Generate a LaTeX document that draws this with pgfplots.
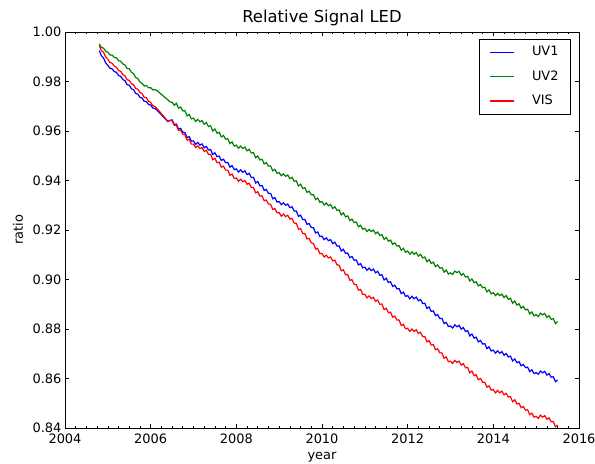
\documentclass[border=0pt]{standalone}
\usepackage{fontspec}
\setmainfont{DejaVu Sans}
\usepackage{pgfplots}
\usepackage{pgfplotstable}
\pgfplotsset{compat=1.18}
\usetikzlibrary{calc}
\definecolor{mplgreen}{rgb}{0,0.5,0}
\definecolor{mplblue}{rgb}{0,0,1}
\definecolor{mplred}{rgb}{1,0,0}

\pgfplotstableread{
year uv1 uv2 vis
2004.80 0.9925 0.9952 0.9945
2004.85 0.9904 0.9938 0.9925
2004.90 0.9895 0.9935 0.9918
2004.95 0.9875 0.9922 0.9899
2005.00 0.9865 0.9918 0.9890
2005.05 0.9853 0.9907 0.9877
2005.10 0.9851 0.9907 0.9874
2005.15 0.9840 0.9897 0.9862
2005.20 0.9837 0.9896 0.9858
2005.25 0.9824 0.9884 0.9844
2005.30 0.9821 0.9882 0.9841
2005.35 0.9808 0.9871 0.9828
2005.40 0.9803 0.9867 0.9823
2005.45 0.9787 0.9852 0.9807
2005.50 0.9785 0.9852 0.9805
2005.55 0.9771 0.9837 0.9791
2005.60 0.9767 0.9832 0.9787
2005.65 0.9752 0.9816 0.9772
2005.70 0.9749 0.9812 0.9769
2005.75 0.9736 0.9798 0.9756
2005.80 0.9733 0.9792 0.9751
2005.85 0.9720 0.9782 0.9736
2005.90 0.9719 0.9784 0.9734
2005.95 0.9707 0.9775 0.9720
2006.00 0.9705 0.9775 0.9716
2006.05 0.9693 0.9766 0.9702
2006.10 0.9691 0.9767 0.9699
2006.15 0.9684 0.9763 0.9690
2006.40 0.9638 0.9726 0.9640
2006.45 0.9643 0.9718 0.9642
2006.50 0.9645 0.9716 0.9642
2006.55 0.9627 0.9704 0.9623
2006.60 0.9628 0.9712 0.9623
2006.65 0.9608 0.9692 0.9602
2006.70 0.9611 0.9697 0.9604
2006.75 0.9595 0.9681 0.9587
2006.80 0.9594 0.9682 0.9585
2006.85 0.9573 0.9661 0.9563
2006.90 0.9577 0.9667 0.9566
2006.95 0.9559 0.9649 0.9547
2007.00 0.9560 0.9652 0.9547
2007.05 0.9546 0.9639 0.9533
2007.10 0.9554 0.9647 0.9540
2007.15 0.9543 0.9637 0.9529
2007.20 0.9548 0.9642 0.9533
2007.25 0.9532 0.9627 0.9517
2007.30 0.9538 0.9634 0.9522
2007.35 0.9523 0.9618 0.9505
2007.40 0.9525 0.9621 0.9506
2007.45 0.9505 0.9600 0.9484
2007.50 0.9512 0.9608 0.9490
2007.55 0.9496 0.9591 0.9472
2007.60 0.9499 0.9595 0.9474
2007.65 0.9481 0.9576 0.9454
2007.70 0.9486 0.9582 0.9458
2007.75 0.9472 0.9567 0.9442
2007.80 0.9473 0.9569 0.9442
2007.85 0.9454 0.9549 0.9421
2007.90 0.9460 0.9556 0.9426
2007.95 0.9444 0.9539 0.9408
2008.00 0.9447 0.9543 0.9410
2008.05 0.9434 0.9530 0.9397
2008.10 0.9443 0.9539 0.9405
2008.15 0.9433 0.9529 0.9395
2008.20 0.9439 0.9535 0.9400
2008.25 0.9424 0.9520 0.9385
2008.30 0.9429 0.9526 0.9389
2008.35 0.9412 0.9511 0.9372
2008.40 0.9413 0.9513 0.9372
2008.45 0.9390 0.9492 0.9350
2008.50 0.9396 0.9499 0.9355
2008.55 0.9378 0.9483 0.9337
2008.60 0.9380 0.9486 0.9338
2008.65 0.9360 0.9467 0.9318
2008.70 0.9364 0.9472 0.9321
2008.75 0.9348 0.9458 0.9305
2008.80 0.9348 0.9459 0.9304
2008.85 0.9326 0.9439 0.9283
2008.90 0.9331 0.9445 0.9287
2008.95 0.9313 0.9429 0.9269
2009.00 0.9315 0.9432 0.9270
2009.05 0.9302 0.9419 0.9256
2009.10 0.9310 0.9427 0.9265
2009.15 0.9300 0.9417 0.9254
2009.20 0.9305 0.9422 0.9260
2009.25 0.9290 0.9407 0.9244
2009.30 0.9294 0.9413 0.9247
2009.35 0.9277 0.9397 0.9228
2009.40 0.9277 0.9399 0.9227
2009.45 0.9255 0.9378 0.9203
2009.50 0.9260 0.9385 0.9206
2009.55 0.9242 0.9368 0.9186
2009.60 0.9243 0.9371 0.9186
2009.65 0.9223 0.9352 0.9164
2009.70 0.9226 0.9357 0.9166
2009.75 0.9210 0.9342 0.9148
2009.80 0.9209 0.9343 0.9146
2009.85 0.9188 0.9323 0.9123
2009.90 0.9192 0.9329 0.9125
2009.95 0.9174 0.9312 0.9105
2010.00 0.9175 0.9315 0.9105
2010.05 0.9161 0.9301 0.9091
2010.10 0.9168 0.9309 0.9098
2010.15 0.9157 0.9298 0.9087
2010.20 0.9161 0.9303 0.9091
2010.25 0.9145 0.9287 0.9075
2010.30 0.9151 0.9294 0.9078
2010.35 0.9135 0.9279 0.9059
2010.40 0.9136 0.9281 0.9058
2010.45 0.9115 0.9261 0.9035
2010.50 0.9122 0.9269 0.9039
2010.55 0.9105 0.9253 0.9019
2010.60 0.9107 0.9257 0.9019
2010.65 0.9088 0.9238 0.8997
2010.70 0.9093 0.9244 0.8999
2010.75 0.9078 0.9230 0.8981
2010.80 0.9079 0.9232 0.8979
2010.85 0.9059 0.9213 0.8957
2010.90 0.9064 0.9219 0.8960
2010.95 0.9047 0.9203 0.8940
2011.00 0.9050 0.9207 0.8940
2011.05 0.9037 0.9194 0.8926
2011.10 0.9046 0.9203 0.8934
2011.15 0.9036 0.9194 0.8923
2011.20 0.9042 0.9200 0.8928
2011.25 0.9027 0.9185 0.8912
2011.30 0.9033 0.9192 0.8917
2011.35 0.9017 0.9178 0.8900
2011.40 0.9019 0.9181 0.8901
2011.45 0.8998 0.9162 0.8878
2011.50 0.9005 0.9170 0.8884
2011.55 0.8988 0.9155 0.8866
2011.60 0.8991 0.9159 0.8868
2011.65 0.8972 0.9142 0.8848
2011.70 0.8977 0.9148 0.8852
2011.75 0.8962 0.9135 0.8836
2011.80 0.8963 0.9137 0.8836
2011.85 0.8943 0.9118 0.8814
2011.90 0.8949 0.9126 0.8819
2011.95 0.8932 0.9110 0.8801
2012.00 0.8935 0.9115 0.8803
2012.05 0.8922 0.9102 0.8790
2012.10 0.8932 0.9112 0.8800
2012.15 0.8922 0.9102 0.8790
2012.20 0.8929 0.9109 0.8797
2012.25 0.8914 0.9094 0.8782
2012.30 0.8919 0.9102 0.8787
2012.35 0.8903 0.9087 0.8769
2012.40 0.8904 0.9091 0.8770
2012.45 0.8883 0.9072 0.8748
2012.50 0.8889 0.9080 0.8753
2012.55 0.8871 0.9065 0.8735
2012.60 0.8873 0.9070 0.8737
2012.65 0.8854 0.9052 0.8716
2012.70 0.8858 0.9059 0.8720
2012.75 0.8842 0.9046 0.8704
2012.80 0.8843 0.9048 0.8703
2012.85 0.8822 0.9030 0.8682
2012.90 0.8827 0.9038 0.8687
2012.95 0.8810 0.9022 0.8668
2013.00 0.8812 0.9027 0.8670
2013.05 0.8804 0.9020 0.8661
2013.10 0.8817 0.9034 0.8673
2013.15 0.8809 0.9028 0.8665
2013.20 0.8815 0.9033 0.8670
2013.25 0.8799 0.9017 0.8654
2013.30 0.8806 0.9024 0.8660
2013.35 0.8790 0.9010 0.8643
2013.40 0.8793 0.9013 0.8645
2013.45 0.8772 0.8994 0.8623
2013.50 0.8780 0.9002 0.8630
2013.55 0.8763 0.8987 0.8612
2013.60 0.8767 0.8991 0.8615
2013.65 0.8748 0.8974 0.8595
2013.70 0.8754 0.8980 0.8600
2013.75 0.8739 0.8967 0.8585
2013.80 0.8741 0.8969 0.8585
2013.85 0.8721 0.8950 0.8565
2013.90 0.8728 0.8958 0.8570
2013.95 0.8711 0.8942 0.8553
2014.00 0.8715 0.8947 0.8555
2014.05 0.8702 0.8935 0.8542
2014.10 0.8712 0.8944 0.8552
2014.15 0.8702 0.8935 0.8542
2014.20 0.8709 0.8941 0.8549
2014.25 0.8694 0.8927 0.8534
2014.30 0.8701 0.8935 0.8540
2014.35 0.8687 0.8920 0.8525
2014.40 0.8690 0.8924 0.8527
2014.45 0.8671 0.8904 0.8506
2014.50 0.8679 0.8913 0.8514
2014.55 0.8664 0.8897 0.8497
2014.60 0.8668 0.8902 0.8500
2014.65 0.8651 0.8884 0.8482
2014.70 0.8657 0.8891 0.8487
2014.75 0.8644 0.8877 0.8472
2014.80 0.8646 0.8880 0.8474
2014.85 0.8628 0.8861 0.8454
2014.90 0.8635 0.8869 0.8460
2014.95 0.8620 0.8853 0.8444
2015.00 0.8624 0.8858 0.8447
2015.05 0.8617 0.8850 0.8439
2015.10 0.8630 0.8864 0.8452
2015.15 0.8623 0.8857 0.8444
2015.20 0.8629 0.8863 0.8450
2015.25 0.8614 0.8847 0.8435
2015.30 0.8620 0.8854 0.8441
2015.35 0.8605 0.8839 0.8425
2015.40 0.8607 0.8842 0.8426
2015.45 0.8587 0.8822 0.8405
2015.50 0.8594 0.8830 0.8412
}\ledtable

\begin{document}
\begin{tikzpicture}
\begin{axis}[
  scale only axis,
  width=514bp, height=396bp,
  xmin=2004, xmax=2016, ymin=0.84, ymax=1.00,
  xtick={2004,2006,2008,2010,2012,2014,2016},
  minor x tick num=7,
  ytick={0.84,0.86,0.88,0.90,0.92,0.94,0.96,0.98,1.00},
  tick align=inside,
  major tick length=4bp, minor tick length=2bp,
  every tick/.style={black, line width=0.6bp},
  axis line style={black, line width=0.8bp},
  /pgf/number format/assume math mode=true,
  x tick label style={/pgf/number format/1000 sep={}, yshift=-2.5bp},
  y tick label style={/pgf/number format/.cd, fixed, fixed zerofill, precision=2},
  tick label style={font=\fontsize{13}{15}\selectfont, black},
  every axis title shift=0pt,
  title={Relative Signal LED},
  title style={font=\fontsize{16.5}{19}\selectfont, at={(axis description cs:0.5,1.0354)}, anchor=center},
  xlabel={year},
  ylabel={ratio},
  xlabel style={font=\fontsize{13}{15}\selectfont, at={(axis description cs:0.5,-0.0745)}, anchor=center},
  ylabel style={font=\fontsize{13}{15}\selectfont, at={(axis description cs:-0.0914,0.5)}, anchor=center},
  legend style={at={(rel axis cs:0.9844,0.9823)}, anchor=north east,
    draw=black, line width=0.8bp, fill=white,
    font=\fontsize{13}{15}\selectfont,
    inner xsep=10bp, inner ysep=5bp,
    column sep=15bp, row sep=8.3bp,
    nodes={inner xsep=2bp, inner ysep=2bp, text height=9.5bp, text depth=2.5bp}},
  legend cell align=left,
  legend image code/.code={\draw[mark repeat=2,mark phase=2,#1] plot coordinates {(0bp,0bp) (12bp,0bp) (24bp,0bp)};},
]
\addplot[color=mplblue, line width=1.2bp] table[x=year, y=uv1]{\ledtable};
\addlegendentry{UV1}
\addplot[color=mplgreen, line width=1.2bp] table[x=year, y=uv2]{\ledtable};
\addlegendentry{UV2}
\addplot[color=mplred, line width=1.2bp] table[x=year, y=vis]{\ledtable};
\addlegendentry{VIS}
\end{axis}
\pgfresetboundingbox
\path[use as bounding box] ($(current axis.south west)+(-65bp,-36bp)$) rectangle ($(current axis.north east)+(16bp,32bp)$);
\end{tikzpicture}
\end{document}
